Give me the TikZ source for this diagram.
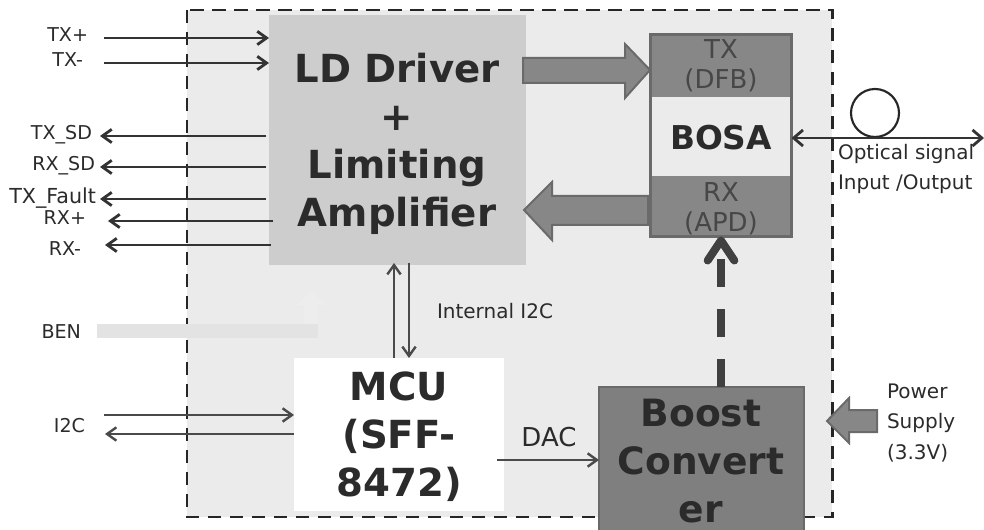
\documentclass[tikz,border=0pt]{standalone}
\usepackage{fontspec}
\setmainfont{DejaVu Sans}
\usetikzlibrary{arrows.meta}
\definecolor{txt}{HTML}{2B2B2B}
\definecolor{boardbg}{HTML}{EBEBEB}
\definecolor{ldbg}{HTML}{CDCDCD}
\definecolor{midgray}{HTML}{878787}
\definecolor{edgegray}{HTML}{6A6A6A}
\definecolor{boostbg}{HTML}{7F7F7F}
\definecolor{wire}{HTML}{333333}
\definecolor{wiretwo}{HTML}{4A4A4A}
\tikzset{
  x=0.75pt,y=-0.75pt,
  box/.style={inner sep=0pt,outer sep=0pt,draw=none},
  lab/.style={inner sep=0pt,outer sep=0pt,text=txt,font=\fontsize{14.3}{17}\selectfont},
  lablarge/.style={lab,font=\fontsize{15}{22.5}\selectfont,align=left},
  title/.style={inner sep=0pt,outer sep=0pt,text=txt,align=center,font=\fontsize{29}{36}\selectfont\bfseries},
  wirea/.style={draw=wire,line width=2.1pt,-{Straight Barb[length=7pt,width=10pt]}},
  wireb/.style={draw=wiretwo,line width=1.8pt,-{Straight Barb[length=7pt,width=10pt]}},
  block/.style={fill=midgray,draw=edgegray,line width=1.5pt,line join=miter},
  bosalab/.style={inner sep=0pt,text=black!72,align=center,font=\fontsize{19.5}{22.7}\selectfont},
}
\begin{document}
\begin{tikzpicture}
\useasboundingbox (0,0) rectangle (984,530);
\clip (0,0) rectangle (984,530);
% board
\node[box,fill=boardbg,minimum width=484pt,minimum height=380.25pt,anchor=north west] (board) at (187,10) {};
\draw[black!85,line width=2.1pt,dash pattern=on 10pt off 6.5pt] (board.north west) rectangle (board.south east);
% main blocks
\node[box,fill=ldbg,minimum width=192.75pt,minimum height=187.5pt,anchor=north west] (ld) at (269,15) {};
\node[title] (ldtext) at (397,144) {LD Driver\\+\\Limiting\\Amplifier};
\node[box,fill=midgray,draw=edgegray,line width=2.4pt,minimum width=105.75pt,minimum height=151.5pt,anchor=north west] (bosa) at (650.5,34.5) {};
\node[box,fill=boardbg,minimum width=103.5pt,minimum height=59.25pt] (bosamid) at (721,137) {};
\node[inner sep=0pt,text=txt,font=\fontsize{24.6}{28}\selectfont\bfseries] (bosatext) at (721,138) {BOSA};
\node[bosalab] (bosatx) at (721,66) {TX\\(DFB)};
\node[bosalab] (bosarx) at (721,209) {RX\\(APD)};
\node[box,fill=white,minimum width=157.5pt,minimum height=114.75pt,anchor=north west] (mcu) at (294,358) {};
\node[title] (mcutext) at (399,437) {MCU\\(SFF-\\8472)};
\node[box,fill=boostbg,draw=edgegray,line width=1.5pt,minimum width=154pt,minimum height=130pt,anchor=north west] (boost) at (599,387) {};
\node[title,font=\fontsize{28.2}{36}\selectfont\bfseries] (boosttext) at (701,461) {Boost\\Convert\\er};
% block arrows
\coordinate (tipa) at (650,70);
\coordinate (tipb) at (524,210);
\coordinate (tipc) at (827,421);
\draw[block] (523,58) -- (625,58) -- (625,44) -- (tipa) -- (625,98) -- (625,83) -- (523,83) -- cycle;
\draw[block] (tipb) -- (552,182) -- (552,196) -- (648,196) -- (648,225) -- (552,225) -- (552,240) -- cycle;
\draw[block] (tipc) -- (849,398) -- (849,410) -- (877,410) -- (877,432) -- (849,432) -- (849,443) -- cycle;
\fill[black!11] (97,324) -- (318,324) -- (318,338) -- (97,338) -- cycle;
\fill[black!7] (304,324) -- (304,305) -- (296,305) -- (311,291) -- (325,305) -- (318,305) -- (318,324) -- cycle;
% dashed arrow boost to bosa
\draw[draw=black!75,line width=6pt,dash pattern=on 21pt off 16.5pt,-{Straight Barb[length=15pt,width=20pt,round]}] (boost.north -| bosa.south) -- (bosa.south);
% left signals
\node[lab,anchor=east] (ltxp) at (88,35) {TX+};
\node[lab,anchor=east] (ltxm) at (83,60) {TX-};
\node[lab,anchor=east] (ltxsd) at (92,135) {TX\_SD};
\node[lab,anchor=east] (lrxsd) at (95,166) {RX\_SD};
\node[lab,anchor=east,font=\fontsize{15.5}{17}\selectfont] (ltxf) at (96,198) {TX\_Fault};
\node[lab,anchor=east] (lrxp) at (86,218) {RX+};
\node[lab,anchor=east] (lrxm) at (81,249) {RX-};
\node[lab,anchor=east] (lben) at (81,332) {BEN};
\node[lab,anchor=east] (li2c) at (85,426) {I2C};
\coordinate (ca) at (104,38);
\coordinate (cb) at (104,63);
\draw[wirea] (ca) -- (ca -| ld.west);
\draw[wirea] (cb) -- (cb -| ld.west);
\coordinate (cc) at (266,136); \coordinate (cctip) at (100,136);
\coordinate (cd) at (266,167); \coordinate (cdtip) at (100,167);
\coordinate (ce) at (266,199); \coordinate (cetip) at (100,199);
\coordinate (cf) at (273,221); \coordinate (cftip) at (108,221);
\coordinate (cg) at (271,245); \coordinate (cgtip) at (105,245);
\draw[wirea] (cc) -- (cctip);
\draw[wirea] (cd) -- (cdtip);
\draw[wirea] (ce) -- (cetip);
\draw[wirea] (cf) -- (cftip);
\draw[wirea] (cg) -- (cgtip);
% I2C
\coordinate (ch) at (104,415);
\coordinate (ci) at (105,434);
\draw[wireb] (ch) -- (ch -| mcu.west);
\draw[wireb] (ci -| mcu.west) -- (ci);
% internal I2C
\coordinate (cj) at (394,358);
\coordinate (cjtip) at (394,263);
\coordinate (ck) at (409,263);
\coordinate (cktip) at (409,358);
\draw[wireb] (cj) -- (cjtip);
\draw[wireb] (ck) -- (cktip);
\node[lab,anchor=west,font=\fontsize{15}{18}\selectfont] (lint) at (437,311) {Internal I2C};
% DAC
\coordinate (cl) at (497,460);
\draw[wireb] (cl) -- (cl -| boost.west);
\node[lab,font=\fontsize{19.5}{22}\selectfont] (ldac) at (549,437) {DAC};
% optical
\node[circle,draw=black!85,line width=1.6pt,fill=none,minimum size=36pt,inner sep=0pt] (coil) at (875,113) {};
\coordinate (cm) at (984,138);
\draw[draw=wire,line width=2.1pt,{Straight Barb[length=7pt,width=12pt]}-{Straight Barb[length=7pt,width=12pt]}] (cm -| bosa.east) -- (cm);
\node[lablarge,anchor=west] (lopt) at (838,169) {Optical signal\\Input /Output};
% power
\node[lab,align=left,anchor=west,font=\fontsize{15}{22.8}\selectfont] (lpow) at (887,423) {Power\\Supply\\(3.3V)};
\end{tikzpicture}
\end{document}
